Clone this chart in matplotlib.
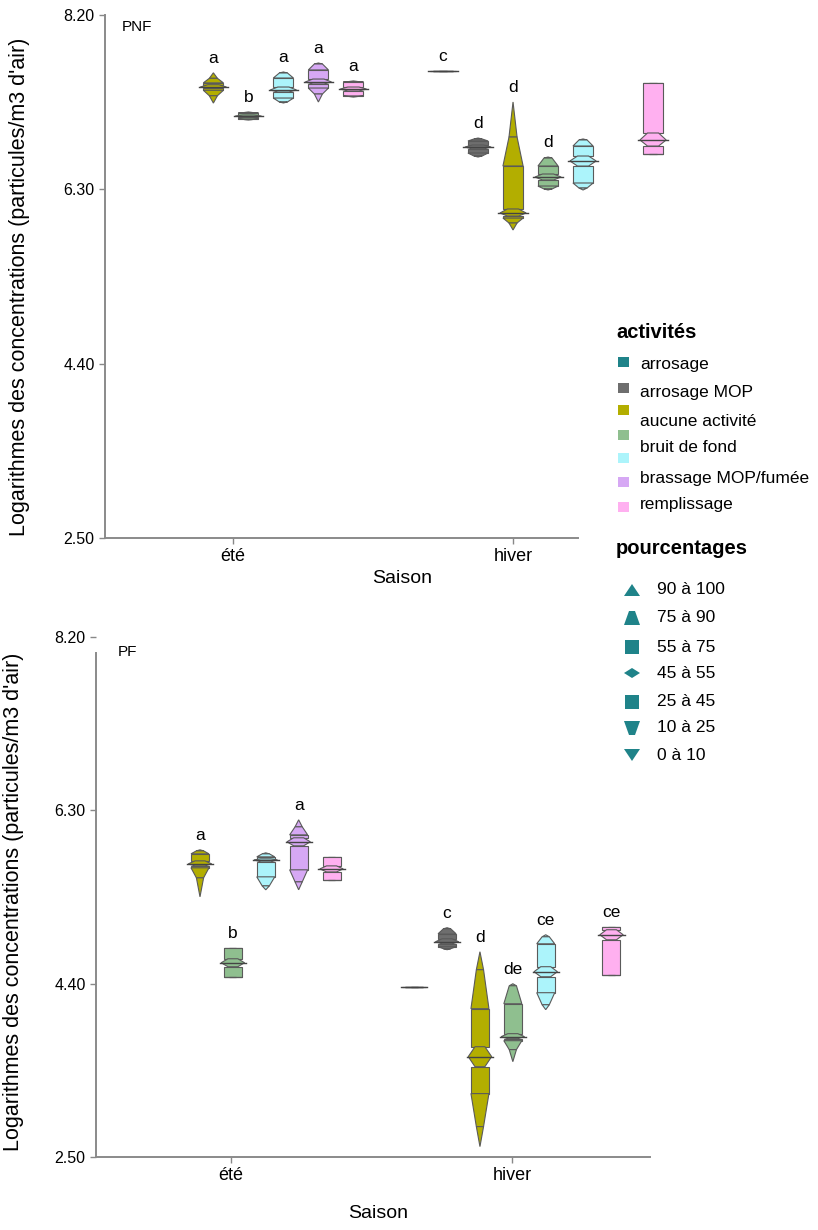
import matplotlib
matplotlib.use('Agg')
import matplotlib.pyplot as plt
from matplotlib.patches import Polygon, Rectangle

plt.rcParams['font.family'] = ['Liberation Sans', 'DejaVu Sans']

seasons = ['été', 'hiver']
activity_colors = ['#1f8389', '#6e6e6e', '#b3ae00', '#8fbf8f', '#acf4fb', '#d6a8f4', '#ffb0f0']
activity_names = ['arrosage', 'arrosage MOP', 'aucune activité', 'bruit de fond',
                  'brassage MOP/fumée', 'remplissage']
pct_names = ['90 à 100', '75 à 90', '55 à 75', '45 à 55', '25 à 45', '10 à 25', '0 à 10']
yticks = [2.50, 4.40, 6.30, 8.20]

# each row: p0, p10, p25, p45, p50, p55, p75, p90, p100
pnf_season = [0, 0, 0, 0, 0, 1, 1, 1, 1, 1, 1]
pnf_activity = [2, 3, 4, 5, 6, 0, 1, 2, 3, 4, 6]
pnf_letters = ['a', 'b', 'a', 'a', 'a', 'c', 'd', 'd', 'd', 'd', '']
pnf_values = [
    [7.24, 7.32, 7.38, 7.40, 7.415, 7.44, 7.46, 7.51, 7.57],
    [7.056, 7.061, 7.067, 7.088, 7.099, 7.11, 7.132, 7.137, 7.143],
    [7.241, 7.252, 7.295, 7.361, 7.383, 7.415, 7.513, 7.568, 7.579],
    [7.252, 7.339, 7.404, 7.448, 7.47, 7.502, 7.601, 7.666, 7.677],
    [7.306, 7.312, 7.317, 7.372, 7.393, 7.415, 7.47, 7.475, 7.481],
    [7.59, 7.59, 7.59, 7.59, 7.59, 7.59, 7.59, 7.59, 7.59],
    [6.652, 6.663, 6.696, 6.74, 6.761, 6.783, 6.827, 6.849, 6.859],
    [5.857, 5.933, 5.987, 6.009, 6.042, 6.086, 6.554, 6.87, 7.252],
    [6.293, 6.304, 6.336, 6.402, 6.434, 6.467, 6.554, 6.641, 6.652],
    [6.293, 6.314, 6.369, 6.554, 6.609, 6.663, 6.772, 6.838, 6.849],
    [6.685, 6.685, 6.685, 6.772, 6.838, 6.914, 7.459, 7.459, 7.459],
]

pf_season = [0, 0, 0, 0, 0, 1, 1, 1, 1, 1, 1]
pf_activity = [2, 3, 4, 5, 6, 0, 1, 2, 3, 4, 6]
pf_letters = ['a', 'b', '', 'a', '', '', 'c', 'd', 'de', 'ce', 'ce']
pf_values = [
    [5.352, 5.56, 5.67, 5.691, 5.713, 5.746, 5.823, 5.856, 5.867],
    [4.476, 4.476, 4.476, 4.586, 4.629, 4.673, 4.794, 4.794, 4.794],
    [5.429, 5.472, 5.571, 5.735, 5.757, 5.768, 5.79, 5.823, 5.834],
    [5.429, 5.516, 5.648, 5.911, 5.955, 5.999, 6.031, 6.119, 6.196],
    [5.538, 5.538, 5.538, 5.625, 5.658, 5.691, 5.79, 5.79, 5.79],
    [4.36, 4.36, 4.36, 4.36, 4.36, 4.36, 4.36, 4.36, 4.36],
    [4.772, 4.783, 4.805, 4.837, 4.859, 4.892, 4.947, 5.002, 5.013],
    [2.614, 2.833, 3.195, 3.49, 3.6, 3.709, 4.126, 4.553, 4.75],
    [3.545, 3.677, 3.775, 3.797, 3.819, 3.852, 4.18, 4.377, 4.399],
    [4.115, 4.169, 4.301, 4.476, 4.531, 4.586, 4.837, 4.914, 4.936],
    [4.498, 4.498, 4.498, 4.881, 4.936, 4.991, 5.024, 5.024, 5.024],
]

EDGE = '#5a5a5a'


def draw_glyph(ax, x, q, w, color):
    p0, p10, p25, p45, p50, p55, p75, p90, p100 = q
    n = 0.4 * w
    segs = [
        [(x - n, p90), (x + n, p90), (x, p100)],
        [(x - w, p75), (x + w, p75), (x + n, p90), (x - n, p90)],
        [(x - w, p55), (x + w, p55), (x + w, p75), (x - w, p75)],
        [(x - w, p25), (x + w, p25), (x + w, p45), (x - w, p45)],
        [(x - n, p10), (x + n, p10), (x + w, p25), (x - w, p25)],
        [(x - n, p10), (x + n, p10), (x, p0)],
        [(x - 0.55 * w, p45), (x + 0.55 * w, p45), (x + 1.3 * w, p50),
         (x + 0.55 * w, p55), (x - 0.55 * w, p55), (x - 1.3 * w, p50)],
    ]
    for s in segs:
        ax.add_patch(Polygon(s, closed=True, facecolor=color, edgecolor=EDGE,
                             lw=0.8, clip_on=False))
    ax.plot([x - 1.45 * w, x + 1.45 * w], [p50, p50], color='#444444', lw=1.0,
            clip_on=False)


def panel(ax, season, activity, letters, values, shifts, spacing, w, name,
          xlim, ylab_pos, xlab_pos, name_pos):
    for s, a, lab, q in zip(season, activity, letters, values):
        x = s + shifts[s] + (a - 2) * spacing
        draw_glyph(ax, x, q, w, activity_colors[a])
        if lab:
            ax.annotate(lab, (x, max(q)), xytext=(0, 5), textcoords='offset points',
                        ha='center', va='bottom', fontsize=12.5)
    ax.set_xlim(*xlim)
    ax.set_ylim(2.5, 8.2)
    ax.set_yticks(yticks)
    ax.set_yticklabels([f'{t:.2f}' for t in yticks], fontsize=11.5)
    ax.set_xticks([0, 1])
    ax.set_xticklabels(seasons, fontsize=13)
    ax.tick_params(colors='#888888', labelcolor='black', length=4, width=1)
    for sp in ['top', 'right']:
        ax.spines[sp].set_visible(False)
    for sp in ['left', 'bottom']:
        ax.spines[sp].set_color('#8a8a8a')
        ax.spines[sp].set_linewidth(1.4)
    ax.set_ylabel("Logarithmes des concentrations (particules/m3 d'air)", fontsize=15.5)
    ax.set_xlabel('Saison', fontsize=14)
    ax.yaxis.set_label_coords(*ylab_pos)
    ax.xaxis.set_label_coords(*xlab_pos)
    ax.text(name_pos[0], name_pos[1], name, transform=ax.transAxes, fontsize=11,
            ha='left', va='center')
    ax.patch.set_alpha(0)


W_PX, H_PX = 818, 1230
fig = plt.figure(figsize=(W_PX / 100, H_PX / 100), dpi=100)


def px_axes(left, right, top, bottom):
    return fig.add_axes([left / W_PX, 1 - bottom / H_PX, (right - left) / W_PX, (bottom - top) / H_PX])


ax1 = px_axes(105, 578, 15, 538)
panel(ax1, pnf_season, pnf_activity, pnf_letters, pnf_values, shifts=[-0.07, 0.0],
      spacing=0.125, w=0.036, name='PNF', xlim=(-0.457, 1.232),
      ylab_pos=(-0.158, 0.48), xlab_pos=(0.628, -0.062), name_pos=(0.036, 0.977))

ax2 = px_axes(96, 650, 637, 1157)
panel(ax2, pf_season, pf_activity, pf_letters, pf_values, shifts=[-0.11, -0.114],
      spacing=0.117, w=0.032, name='PF', xlim=(-0.480, 1.491),
      ylab_pos=(-0.13, 0.49), xlab_pos=(0.509, -0.092), name_pos=(0.04, 0.971))
ax2.spines['left'].set_bounds(2.5, 8.03)

# legend drawn in pixel space
lax = fig.add_axes([0, 0, 1, 1])
lax.set_xlim(0, W_PX)
lax.set_ylim(H_PX, 0)
lax.axis('off')
lax.patch.set_alpha(0)

lax.text(616, 332, 'activités', fontsize=14.5, fontweight='bold', va='center')
square_y = [362, 388, 410, 435, 458, 482, 507]
for c, y in zip(activity_colors, square_y):
    lax.add_patch(Rectangle((618, y - 5), 11, 10, facecolor=c, edgecolor='none'))
label_y = [365, 393, 422, 448, 478, 505]
for t, y in zip(activity_names, label_y):
    lax.text(640, y, t, fontsize=12.5, va='center')

lax.text(616, 548, 'pourcentages', fontsize=14.5, fontweight='bold', va='center')
TEAL = activity_colors[0]
pct_y = [590, 618, 647, 673, 702, 728, 755]
shapes = [
    [(-8, 6), (8, 6), (0, -6)],
    [(-8, 7), (8, 7), (3, -7), (-3, -7)],
    [(-7, 7), (7, 7), (7, -7), (-7, -7)],
    [(-8, 0), (0, -5), (8, 0), (0, 5)],
    [(-7, 7), (7, 7), (7, -7), (-7, -7)],
    [(-8, -7), (8, -7), (3, 7), (-3, 7)],
    [(-8, -6), (8, -6), (0, 6)],
]
for t, y, sh in zip(pct_names, pct_y, shapes):
    lax.add_patch(Polygon([(632 + dx, y + dy) for dx, dy in sh], closed=True,
                          facecolor=TEAL, edgecolor='none'))
    lax.text(657, y, t, fontsize=12.5, va='center')

fig.savefig('out.png', dpi=100)
